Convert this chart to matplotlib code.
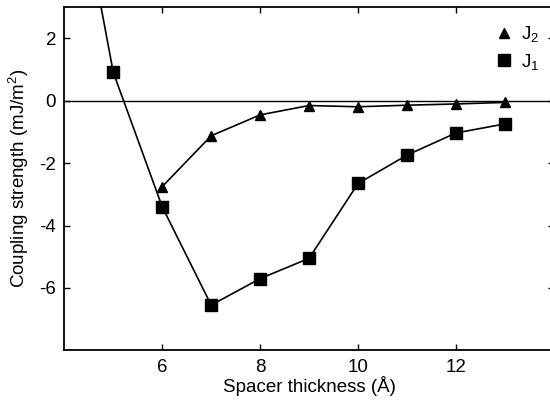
import matplotlib
matplotlib.use("Agg")
import matplotlib.pyplot as plt

plt.rcParams['font.family'] = ['Liberation Sans', 'DejaVu Sans']
plt.rcParams['mathtext.fontset'] = 'custom'
plt.rcParams['mathtext.rm'] = 'Liberation Sans'
plt.rcParams['mathtext.it'] = 'Liberation Sans'
plt.rcParams['axes.unicode_minus'] = False

# Data
x_j1 = [4, 5, 6, 7, 8, 9, 10, 11, 12, 13]
j1 = [9.3, 0.91, -3.40, -6.55, -5.70, -5.05, -2.65, -1.74, -1.03, -0.74]
x_j2 = [6, 7, 8, 9, 10, 11, 12, 13]
j2 = [-2.75, -1.12, -0.45, -0.15, -0.19, -0.14, -0.10, -0.05]
xticks = [6, 8, 10, 12]
yticks = [2, 0, -2, -4, -6]

fig = plt.figure(figsize=(5.5, 4.05), dpi=100)
ax = fig.add_axes([0.117, 0.135, 0.89, 0.847])

ax.axhline(0, color='black', lw=1.0, zorder=1)
ax.plot(x_j1, j1, '-', color='black', lw=1.2, zorder=2)
ax.plot(x_j1, j1, 's', color='black', ms=8, ls='none', zorder=3, label='J$_1$')
ax.plot(x_j2, j2, '-', color='black', lw=1.2, zorder=2)
ax.plot(x_j2, j2, '^', color='black', ms=7, ls='none', zorder=3, label='J$_2$')

ax.set_xlim(4, 14)
ax.set_ylim(-8, 3)
ax.set_xticks(xticks)
ax.set_yticks(yticks)
ax.tick_params(direction='in', top=True, right=True, length=4, width=1,
               labelsize=13.5, pad=6)
for s in ax.spines.values():
    s.set_linewidth(1.3)

ax.set_xlabel('Spacer thickness (Å)', fontsize=13.5, labelpad=0)
ax.set_ylabel('Coupling strength (mJ/m$^2$)', fontsize=13.5, labelpad=6)

h, l = ax.get_legend_handles_labels()
ax.legend([h[1], h[0]], [l[1], l[0]], loc='upper left',
          bbox_to_anchor=(0.903, 0.94), bbox_transform=fig.transFigure,
          frameon=False, handlelength=0.8, handletextpad=0.5,
          labelspacing=0.4, fontsize=13.5, borderpad=0, borderaxespad=0)

fig.savefig('out.png', dpi=100)
